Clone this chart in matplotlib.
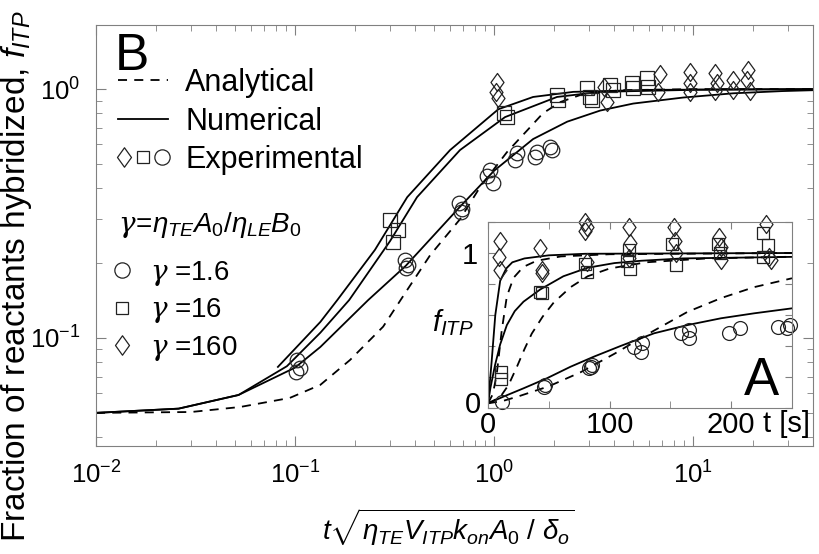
import matplotlib
matplotlib.use('Agg')
import matplotlib.pyplot as plt
from matplotlib.lines import Line2D
from matplotlib.legend_handler import HandlerTuple
from matplotlib.path import Path
from matplotlib.ticker import MultipleLocator, FixedLocator, FixedFormatter

plt.rcParams['font.family'] = ['Liberation Sans', 'DejaVu Sans']
plt.rcParams['mathtext.fontset'] = 'custom'
plt.rcParams['mathtext.rm'] = 'Liberation Sans'
plt.rcParams['mathtext.it'] = 'Liberation Sans:italic'
plt.rcParams['mathtext.bf'] = 'Liberation Sans:bold'
plt.rcParams['mathtext.cal'] = 'DejaVu Serif:italic'
plt.rcParams['axes.unicode_minus'] = False

# ---- panel B (log-log, scaled time) ----
ana_x = [0.01, 0.03, 0.053, 0.094, 0.134, 0.189, 0.277, 0.366, 0.477, 0.674, 0.85, 1.16, 1.47, 1.76, 2.15, 2.7, 4.3, 10, 40]
ana_y = [0.050, 0.0504, 0.0528, 0.0574, 0.0648, 0.0816, 0.111, 0.156, 0.215, 0.30, 0.404, 0.558, 0.684, 0.80, 0.887, 0.946, 0.99, 1.0, 1.0]

num1_x = [0.01, 0.026, 0.052, 0.1, 0.134, 0.233, 0.36, 0.67, 1.0, 1.57, 2.33, 3.41, 5.0, 8.9, 15.9, 28, 40]
num1_y = [0.050, 0.052, 0.059, 0.076, 0.092, 0.142, 0.195, 0.335, 0.47, 0.63, 0.74, 0.82, 0.875, 0.925, 0.962, 0.982, 0.99]

num16_x = [0.01, 0.026, 0.052, 0.091, 0.134, 0.187, 0.30, 0.41, 0.674, 1.135, 2.07, 3.41, 10.8, 40]
num16_y = [0.050, 0.052, 0.059, 0.077, 0.105, 0.142, 0.245, 0.368, 0.569, 0.772, 0.93, 0.975, 0.995, 1.0]

num160_x = [0.082, 0.134, 0.163, 0.252, 0.366, 0.601, 1.05, 1.57, 2.5, 6.0, 40]
num160_y = [0.0765, 0.116, 0.142, 0.226, 0.368, 0.569, 0.83, 0.93, 0.975, 0.993, 1.0]

circ_x = [0.102, 0.106, 0.101, 0.357, 0.37, 0.36, 0.67, 0.69, 0.68, 0.955, 0.989, 0.92, 1.31, 1.28, 1.64, 1.61, 1.91, 1.95]
circ_y = [0.0816, 0.0755, 0.0733, 0.206, 0.196, 0.191, 0.35, 0.33, 0.32, 0.473, 0.42, 0.447, 0.553, 0.519, 0.558, 0.533, 0.585, 0.569]

sq_x = [0.300, 0.329, 0.311, 1.12, 1.16, 2.07, 2.10, 2.93, 3.03, 3.10, 3.83, 3.96, 4.93, 4.99, 5.87, 5.94]
sq_y = [0.298, 0.271, 0.243, 0.80, 0.77, 0.946, 0.903, 1.01, 0.929, 0.903, 1.04, 0.991, 1.06, 1.01, 1.107, 1.02]

dia_x = [1.04, 1.02, 1.05, 3.55, 3.70, 6.83, 6.67, 9.66, 9.66, 9.66, 12.9, 13.1, 12.9, 15.9, 15.9, 18.9, 18.7, 19.2]
dia_y = [1.067, 0.973, 0.92, 1.02, 0.89, 1.15, 0.97, 1.17, 1.06, 0.97, 1.16, 1.06, 0.98, 1.09, 0.99, 1.19, 1.09, 0.98]

# ---- panel A (inset, linear, t in s) ----
a_ana160_t = [0, 4, 7.2, 11.3, 15.5, 21, 29, 40, 60, 100, 250]
a_ana160_f = [0.03, 0.09, 0.22, 0.5, 0.72, 0.84, 0.91, 0.95, 0.978, 0.992, 1.0]
a_ana16_t = [0, 10, 17, 24, 30, 36, 45, 54, 68, 82, 100, 130, 180, 250]
a_ana16_f = [0.03, 0.07, 0.15, 0.27, 0.38, 0.48, 0.59, 0.68, 0.78, 0.85, 0.9, 0.94, 0.965, 0.976]
a_ana1_t = [0, 12, 25, 50, 76, 104, 131, 164, 192, 219, 250]
a_ana1_f = [0.03, 0.045, 0.075, 0.14, 0.23, 0.35, 0.475, 0.62, 0.71, 0.78, 0.837]

a_num160_t = [0, 3, 6, 10, 15, 20, 30, 50, 80, 250]
a_num160_f = [0.03, 0.3, 0.6, 0.82, 0.9, 0.94, 0.965, 0.985, 0.995, 1.0]
a_num16_t = [0, 2, 5.8, 10, 15.5, 22, 29.2, 43, 62, 82, 104, 126, 160, 250]
a_num16_f = [0.03, 0.13, 0.277, 0.41, 0.535, 0.625, 0.686, 0.765, 0.85, 0.905, 0.935, 0.95, 0.965, 0.975]
a_num1_t = [0, 12.6, 29.2, 48.5, 67.8, 87, 109, 136.6, 164, 191.7, 219, 250]
a_num1_f = [0.03, 0.073, 0.127, 0.192, 0.266, 0.331, 0.40, 0.482, 0.535, 0.579, 0.611, 0.643]

a_circ_t = [11.5, 45.7, 47.1, 84.3, 85.7, 83, 120, 127, 125.6, 158.7, 165.5, 165.5, 198.6, 206.9, 238.6, 248.2, 246]
a_circ_f = [0.04, 0.137, 0.148, 0.266, 0.277, 0.26, 0.395, 0.417, 0.363, 0.482, 0.503, 0.45, 0.482, 0.514, 0.525, 0.535, 0.515]
a_sq_t = [10.5, 10.5, 43, 44, 80, 81.6, 116, 117, 114, 151, 154.5, 189, 191, 226, 230, 226]
a_sq_f = [0.23, 0.19, 0.75, 0.74, 0.93, 0.88, 1.02, 0.9, 0.95, 1.06, 0.92, 1.06, 1.0, 1.13, 1.05, 0.975]
a_dia_t = [9.5, 9, 9.5, 43, 44, 44, 80, 81.5, 80, 81.5, 116, 117, 116, 153, 154, 155, 190, 191.5, 191.5, 229, 231, 233]
a_dia_f = [1.08, 0.975, 0.89, 1.03, 0.89, 0.87, 1.2, 1.17, 1.14, 0.945, 1.17, 1.065, 0.97, 1.17, 1.08, 1.0, 1.1, 1.04, 0.955, 1.19, 0.975, 0.955]

gamma_labels = ['1.6', '16', '160']

dia = Path([(0, 1), (0.72, 0), (0, -1), (-0.72, 0), (0, 1)],
           [Path.MOVETO, Path.LINETO, Path.LINETO, Path.LINETO, Path.CLOSEPOLY])
dash = (0, (5, 4))
mk = dict(ls='none', mfc='none', mec='#222222', mew=0.9)
frame = '#808080'

fig = plt.figure(figsize=(8.19, 5.54), dpi=100)
ax = fig.add_axes([96/819, 1-446/554, 717/819, 421/554])

ax.plot(ana_x, ana_y, color='k', lw=1.3, ls=dash)
ax.plot(num1_x, num1_y, color='k', lw=1.3)
ax.plot(num16_x, num16_y, color='k', lw=1.3)
ax.plot(num160_x, num160_y, color='k', lw=1.3)
ax.plot(circ_x, circ_y, marker='o', ms=10.5, **mk)
ax.plot(sq_x, sq_y, marker='s', ms=10, **mk)
ax.plot(dia_x, dia_y, marker=dia, ms=13, **mk)

ax.set_xscale('log')
ax.set_yscale('log')
ax.set_xlim(0.01, 40)
ax.set_ylim(0.0368, 1.81)
ax.tick_params(which='both', direction='in', top=True, right=True, color=frame, labelsize=18.5)
ax.tick_params(which='major', length=7)
ax.tick_params(which='minor', length=4)
ax.tick_params(axis='x', pad=11)
ax.tick_params(axis='y', pad=11)
for s in ax.spines.values():
    s.set_color(frame)
    s.set_linewidth(0.8)

fig.text(17/819, 1-276/554, 'Fraction of reactants hybridized, $f_{ITP}$',
         rotation=90, ha='center', va='center', fontsize=24)
fig.text(448/819, 1-527/554, r'$t\sqrt{\eta_{TE}V_{ITP}k_{on}A_0\ /\ \delta_o}$',
         ha='center', va='center', fontsize=20)
fig.text(132/819, 1-56/554, 'B', ha='center', va='center', fontsize=37)

h_ana = Line2D([], [], color='k', lw=1.3, ls=dash)
h_num = Line2D([], [], color='k', lw=1.3)
h_exp = (Line2D([], [], marker=dia, ms=14, **mk),
         Line2D([], [], marker='s', ms=9, **mk),
         Line2D([], [], marker='o', ms=11, **mk))
leg1 = ax.legend([h_ana, h_num, h_exp], ['Analytical', 'Numerical', 'Experimental'],
                 handler_map={tuple: HandlerTuple(ndivide=None, pad=0.2)},
                 loc='upper left', bbox_to_anchor=(118/819, 1-68/554),
                 bbox_transform=fig.transFigure, frameon=False, fontsize=22,
                 handlelength=1.64, handletextpad=0.56, labelspacing=0.28,
                 borderpad=0, borderaxespad=0)
ax.add_artist(leg1)

fig.text(118/819, 1-225/554, r'$\mathcal{\gamma}\!=\!\eta_{TE}A_0/\eta_{LE}B_0$',
         ha='left', va='center', fontsize=20)
g_handles = [Line2D([], [], marker='o', ms=11, **mk),
             Line2D([], [], marker='s', ms=9, **mk),
             Line2D([], [], marker=dia, ms=14, **mk)]
leg2 = ax.legend(g_handles, [r'$\mathcal{\gamma}$ =' + g for g in gamma_labels],
                 loc='upper left', bbox_to_anchor=(111/819, 1-259/554),
                 bbox_transform=fig.transFigure, frameon=False, fontsize=20,
                 handlelength=0.8, handletextpad=0.6, labelspacing=0.3,
                 borderpad=0, borderaxespad=0)

# ---- inset ----
axi = fig.add_axes([488/819, 1-408/554, 304/819, 186/554])
axi.set_facecolor('white')
axi.plot(a_ana160_t, a_ana160_f, color='k', lw=1.3, ls=dash)
axi.plot(a_ana16_t, a_ana16_f, color='k', lw=1.3, ls=dash)
axi.plot(a_ana1_t, a_ana1_f, color='k', lw=1.3, ls=dash)
axi.plot(a_num160_t, a_num160_f, color='k', lw=1.3)
axi.plot(a_num16_t, a_num16_f, color='k', lw=1.3)
axi.plot(a_num1_t, a_num1_f, color='k', lw=1.3)
axi.plot(a_circ_t, a_circ_f, marker='o', ms=10, clip_on=False, **mk)
axi.plot(a_sq_t, a_sq_f, marker='s', ms=9, clip_on=False, **mk)
axi.plot(a_dia_t, a_dia_f, marker=dia, ms=13, clip_on=False, **mk)

axi.set_xlim(0, 250)
axi.set_ylim(0, 1.2)
axi.set_xticks([0, 100, 200])
axi.xaxis.set_minor_locator(MultipleLocator(50))
axi.yaxis.set_major_locator(FixedLocator([0, 0.2, 0.4, 0.6, 0.8, 1.0, 1.2]))
axi.yaxis.set_major_formatter(FixedFormatter(['', '', '', '', '', '1', '']))
axi.annotate('0', xy=(0, 0), xycoords=('axes fraction', 'data'), xytext=(-7, 6),
             textcoords='offset pixels', ha='right', va='center_baseline', fontsize=21)
axi.tick_params(which='both', direction='in', top=True, right=True, color=frame, labelsize=21)
axi.tick_params(which='major', length=5)
axi.tick_params(which='minor', length=5)
axi.tick_params(axis='x', pad=2)
axi.tick_params(axis='y', pad=7)
for s in axi.spines.values():
    s.set_color(frame)
    s.set_linewidth(0.8)

axi.text(0.983, -0.012, 't [s]', transform=axi.transAxes, ha='center', va='top', fontsize=21)
axi.text(-0.115, 0.457, '$f_{ITP}$', transform=axi.transAxes, ha='center', va='center', fontsize=21)
axi.text(0.901, 0.145, 'A', transform=axi.transAxes, ha='center', va='center', fontsize=38)

fig.savefig('out.png', dpi=100)
